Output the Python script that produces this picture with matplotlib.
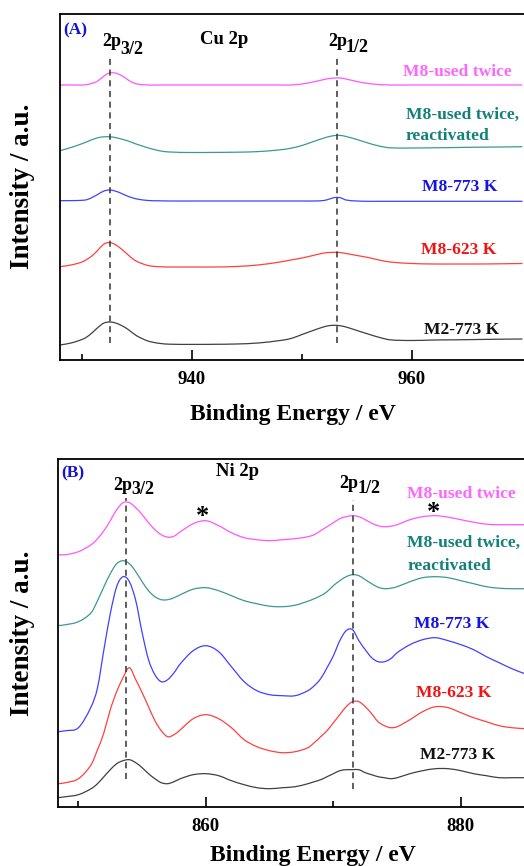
import matplotlib
matplotlib.use("Agg")
import matplotlib.pyplot as plt
from matplotlib.ticker import FixedLocator
from matplotlib.path import Path
from matplotlib.patches import PathPatch

plt.rcParams['font.family'] = ['Liberation Serif', 'DejaVu Serif']
plt.rcParams['font.weight'] = 'bold'

# ---------------- Panel A: Cu 2p ----------------
energy_A = [928, 929, 930, 930.5, 931, 931.5, 932, 932.5, 933, 933.5, 934, 934.5, 935,
            936, 937, 938, 940, 942, 944, 946, 948, 949, 950, 951, 952, 952.5, 953,
            953.5, 954, 955, 956, 957, 958, 960, 962, 964, 966, 968, 970]
cu_used_twice = [275, 275, 275, 275.5, 277, 279.5, 284, 287, 287, 285, 281.5, 278, 276,
                 275, 275, 275, 275, 275, 275, 275, 275, 275, 276, 278, 280.5, 281.5, 282,
                 282, 281, 278.5, 276.5, 275.5, 275, 275, 275, 275, 275, 275, 275]
cu_reactivated = [209.3, 212.5, 216.3, 218.5, 220.7, 222.4, 223.2, 223.2, 222.5, 221.2, 219.7,
                  217.7, 215.7, 212.2, 209.3, 208, 207.5, 207.6, 207.8, 208.4, 210.2, 211.8,
                  214.5, 218.3, 222, 223.5, 224.5, 224.6, 223.5, 220.5, 217, 214, 212.2, 212,
                  212.2, 212.5, 212.8, 213, 213.3]
cu_m8_773 = [159.3, 159.4, 159.7, 160.5, 163, 166, 169, 170, 169, 167, 164.5, 162.5, 161,
             159.5, 159.2, 159, 159, 159, 159, 159, 159, 159, 159, 159, 159.5, 161, 162.5,
             162.2, 160, 159, 158.7, 158.7, 158.7, 158.7, 158.7, 158.7, 158.7, 158.7, 158.7]
cu_m8_623 = [93.3, 95, 98, 101, 105, 110.5, 116, 117.5, 115.5, 111.7, 107, 102.2, 98.5,
             94.5, 93.3, 93, 93, 93, 93.5, 95, 98, 100, 102, 104.5, 107, 107.5, 107.7,
             107.4, 106.5, 104.5, 102.5, 100, 98, 96.5, 96, 96, 96, 96.2, 96.5]
cu_m2_773 = [15, 17, 20.5, 23.5, 28, 33, 37, 38, 37.2, 35, 32, 28, 24,
             19, 16.7, 15.8, 15.6, 15.7, 16, 17, 19.5, 21.5, 25.5, 29.5, 33.2, 34.4, 34.7,
             34.2, 33, 29.5, 26, 22.7, 20.2, 19.5, 20, 20.2, 20.5, 20.8, 21]
cu_peaks = [932.5, 953.2]

# ---------------- Panel B: Ni 2p ----------------
energy_B = [848.4, 849, 850, 851, 851.5, 852, 852.5, 853, 853.5, 854, 854.5, 855, 855.5,
            856, 856.5, 857, 857.5, 858, 859, 860, 861, 862, 863, 864, 865, 866, 867, 868,
            868.5, 869, 869.5, 870, 870.5, 871, 871.5, 872, 872.5, 873, 873.5, 874, 874.5,
            875, 876, 877, 878, 879, 880, 881, 882, 883, 884, 885]
ni_used_twice = [252, 252, 255, 262, 268, 276, 286, 297, 304, 304, 299, 292, 284, 277, 272,
                 269.5, 270.5, 275, 283, 286, 281, 274, 269, 267, 266, 267, 268, 270, 272, 276,
                 280, 284, 288, 290, 291, 290, 287, 283.5, 281, 280, 280.5, 282, 287, 290, 291,
                 289.5, 287, 284.5, 282.5, 282, 282, 282]
ni_reactivated = [181, 182, 185, 194, 206, 220, 233, 243, 246, 243, 235, 225, 216, 210, 207,
                  207, 209, 212, 217.5, 219, 216, 211, 206, 203, 200.5, 200, 201.5, 205.5, 208, 211,
                  215, 221, 226, 230, 232, 231, 227, 223, 219.5, 218, 218.5, 220, 225, 229, 230,
                  229, 226, 223, 220, 218.5, 218, 218]
ni_m8_773 = [75, 76, 79, 100, 119, 157, 193, 220, 230, 225, 206, 174, 147, 132, 125,
             127, 134, 143, 156, 161, 155, 140, 125, 116, 112, 111, 111, 116, 121, 128,
             139, 151, 166, 176, 177, 166, 157, 149, 145, 145, 148, 154, 162, 167, 169,
             166, 162, 157, 150, 144, 138, 133]
ni_m8_623 = [23, 24, 28, 42, 57, 74, 97, 115, 129, 139, 127, 114, 100, 86, 76,
             70, 72, 77, 88, 92, 88, 79, 67, 60, 56, 54, 55, 59, 64, 70,
             76, 84, 92, 100, 105, 105, 100, 93, 85, 81, 79, 80, 87, 95, 100,
             99, 94, 89, 85, 81, 79, 78]
ni_m2_773 = [9, 10, 12, 18, 23, 30, 37, 43, 46, 47, 44, 39, 33, 28, 24,
             23, 25, 28, 32, 33, 31, 26, 22, 19, 18, 19, 20, 23, 25, 27,
             30, 33, 36, 37, 37, 37, 34, 32, 30, 29, 28, 29, 33, 36, 38,
             38, 36, 33, 31, 29, 29, 29]
ni_peaks = [853.7, 871.5]

labels = ['M8-used twice', 'M8-used twice,\nreactivated', 'M8-773 K', 'M8-623 K', 'M2-773 K']
line_colors = ['#ff55ff', '#3a9a90', '#4040ff', '#ff4040', '#404040']
text_colors = ['#ff66ff', '#13807a', '#1414e6', '#f01414', '#111111']

W, H = 524, 866
fig = plt.figure(figsize=(W / 100, H / 100), dpi=100)


def fx(x):
    return x / W


def fy(y):
    return 1 - y / H


def ftext(x, y, s, **kw):
    kw.setdefault('ha', 'center')
    kw.setdefault('va', 'center')
    kw.setdefault('fontweight', 'bold')
    fig.text(fx(x), fy(y), s, **kw)


def smooth_line(ax, xs, ys, color, lw=0.9):
    """Draw a smooth curve through the read points (cubic Hermite segments in data space)."""
    n = len(xs)
    m = []
    for i in range(n):
        if i == 0:
            m.append((ys[1] - ys[0]) / (xs[1] - xs[0]))
        elif i == n - 1:
            m.append((ys[-1] - ys[-2]) / (xs[-1] - xs[-2]))
        else:
            m.append((ys[i + 1] - ys[i - 1]) / (xs[i + 1] - xs[i - 1]))
    verts = [(xs[0], ys[0])]
    codes = [Path.MOVETO]
    for i in range(n - 1):
        h = xs[i + 1] - xs[i]
        verts += [(xs[i] + h / 3, ys[i] + m[i] * h / 3),
                  (xs[i + 1] - h / 3, ys[i + 1] - m[i + 1] * h / 3),
                  (xs[i + 1], ys[i + 1])]
        codes += [Path.CURVE4] * 3
    ax.add_patch(PathPatch(Path(verts, codes), fill=False, edgecolor=color, lw=lw,
                           capstyle='round', joinstyle='round'))


def setup_axes(ax, xlim, ylim, major, minor):
    ax.set_xlim(*xlim)
    ax.set_ylim(*ylim)
    ax.set_yticks([])
    ax.xaxis.set_major_locator(FixedLocator(major))
    ax.xaxis.set_minor_locator(FixedLocator(minor))
    ax.tick_params(axis='x', which='major', direction='in', length=7, width=1.2,
                   pad=8, labelsize=13.5)
    ax.tick_params(axis='x', which='minor', direction='in', length=4, width=1.2)
    for lab in ax.get_xticklabels():
        lab.set_fontweight('bold')
    for sp in ax.spines.values():
        sp.set_linewidth(1.3)


# Panel A axes: left 60px, top 14px, bottom 360px
axA = fig.add_axes([fx(60), fy(360), 466 / W, 346 / H])
seriesA = [cu_used_twice, cu_reactivated, cu_m8_773, cu_m8_623, cu_m2_773]
for vals, c in zip(seriesA, line_colors):
    smooth_line(axA, energy_A, vals, c)
for e in cu_peaks:
    axA.plot([e, e], [16.7, 305], color='#333333', lw=1.1, ls=(0, (4, 3)))
setup_axes(axA, (928, 928 + 466 / 11), (0, 346), [940, 960], [930, 950])

# Panel B axes: left 58px, top 459px, bottom 806.7px
axB = fig.add_axes([fx(58), fy(806.7), 468 / W, 347.7 / H])
seriesB = [ni_used_twice, ni_reactivated, ni_m8_773, ni_m8_623, ni_m2_773]
for vals, c in zip(seriesB, line_colors):
    smooth_line(axB, energy_B, vals, c)
axB.plot([ni_peaks[0]] * 2, [27.7, 308.4], color='#333333', lw=1.1, ls=(0, (4, 3)))
axB.plot([ni_peaks[1]] * 2, [17.4, 306.7], color='#333333', lw=1.1, ls=(0, (4, 3)))
setup_axes(axB, (848.4, 848.4 + 468 / 12.75), (0, 347.7), [860, 880], [850, 870])

# Axis titles
ftext(292.5, 415, 'Binding Energy / eV', fontsize=17)
ftext(313, 856, 'Binding Energy / eV', fontsize=17)
ftext(22.5, 186, 'Intensity / a.u.', fontsize=19.5, rotation=90)
ftext(22.5, 633, 'Intensity / a.u.', fontsize=19.5, rotation=90)

# Panel headers
ftext(75, 30, '(A)', fontsize=12.5, color='#1414d0')
ftext(73, 473, '(B)', fontsize=12.5, color='#1414d0')
ftext(224, 40, 'Cu 2p', fontsize=13.5)
ftext(237.5, 472, 'Ni 2p', fontsize=13.5)


# 2p labels (main + lowered subscript)
def twop(x0, y_main, y_sub, sub):
    ftext(x0, y_main, '2p', fontsize=13, ha='left')
    ftext(x0 + 18, y_sub, sub, fontsize=13, ha='left')


twop(102.5, 41, 50, '3/2')
twop(328, 42, 47.5, '1/2')
twop(113, 485.5, 490, '3/2')
twop(339.3, 484, 488, '1/2')

ftext(202.3, 516, '*', fontsize=19)
ftext(434, 513, '*', fontsize=19)

# Curve labels panel A
fs = 12.6
ftext(457.5, 72, labels[0], fontsize=fs, color=text_colors[0])
ftext(406, 115, 'M8-used twice,', fontsize=fs, color=text_colors[1], ha='left')
ftext(406, 135.7, 'reactivated', fontsize=fs, color=text_colors[1], ha='left')
ftext(459.2, 186.7, labels[2], fontsize=fs, color=text_colors[2])
ftext(458.3, 250, labels[3], fontsize=fs, color=text_colors[3])
ftext(462, 330, labels[4], fontsize=fs, color=text_colors[4])

# Curve labels panel B
ftext(461.7, 494.3, labels[0], fontsize=fs, color=text_colors[0])
ftext(407, 543, 'M8-used twice,', fontsize=fs, color=text_colors[1], ha='left')
ftext(407.5, 566, 'reactivated', fontsize=fs, color=text_colors[1], ha='left')
ftext(451.7, 624, labels[2], fontsize=fs, color=text_colors[2])
ftext(453.3, 692.7, labels[3], fontsize=fs, color=text_colors[3])
ftext(457.7, 755, labels[4], fontsize=fs, color=text_colors[4])

fig.savefig('out.png', dpi=100)
